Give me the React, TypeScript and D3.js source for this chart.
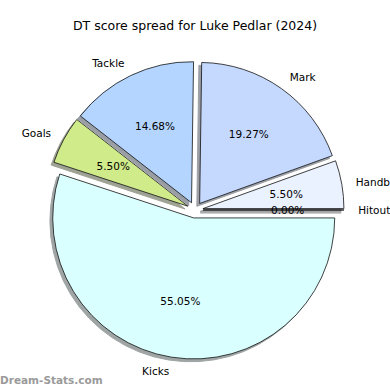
import * as d3 from "d3";
import { useEffect, useRef } from "react";

// DT score points per stat (order as matplotlib drew them, counter-clockwise)
const categories = ["Kicks", "Hitout", "Handball", "Mark", "Tackle", "Goals"];
const points = [60, 0, 6, 21, 16, 6];
const colors = ["#daffff", "#f2f7ff", "#eaf1ff", "#c5d9ff", "#b3d5ff", "#d0eb8a"];

const title = "DT score spread for Luke Pedlar (2024)";
const watermark = "Dream-Stats.com";

type Slice = { name: string; value: number; color: string };

const App = () => {
  const ref = useRef<SVGSVGElement>(null);
  const width = 390;
  const height = 390;

  useEffect(() => {
    if (!ref.current) return;
    const svg = d3.select(ref.current);
    svg.selectAll("*").remove();

    const data: Slice[] = categories.map((name, i) => ({
      name,
      value: points[i],
      color: colors[i],
    }));

    const cx = 195;
    const cy = 210;
    const r = 141;
    const explode = 0.057;
    const total = d3.sum(points);

    // first slice ends at 3 o'clock, slices run counter-clockwise
    const start = Math.PI / 2 + (points[0] / total) * 2 * Math.PI;
    const pie = d3
      .pie<Slice>()
      .sort(null)
      .value((d) => d.value)
      .startAngle(start)
      .endAngle(start - 2 * Math.PI);

    const arcs = pie(data);
    const arc = d3.arc<d3.PieArcDatum<Slice>>().innerRadius(0).outerRadius(r);

    const dir = (d: d3.PieArcDatum<Slice>) => {
      const a = (d.startAngle + d.endAngle) / 2;
      return [Math.sin(a), -Math.cos(a)];
    };

    const g = svg.append("g").attr("transform", `translate(${cx},${cy})`);

    // shadows
    g.selectAll(".shadow")
      .data(arcs)
      .enter()
      .append("path")
      .attr("class", "shadow")
      .attr("d", arc)
      .attr("transform", (d) => {
        const [ux, uy] = dir(d);
        return `translate(${ux * explode * r - 0.02 * r},${uy * explode * r + 0.02 * r})`;
      })
      .attr("fill", (d) => {
        const c = d3.rgb(d.data.color);
        return d3.rgb(c.r * 0.3, c.g * 0.3, c.b * 0.3).toString();
      })
      .attr("stroke", (d) => {
        const c = d3.rgb(d.data.color);
        return d3.rgb(c.r * 0.3, c.g * 0.3, c.b * 0.3).toString();
      })
      .attr("stroke-width", 1)
      .attr("opacity", 0.5);

    // wedges
    g.selectAll(".wedge")
      .data(arcs)
      .enter()
      .append("path")
      .attr("class", "wedge")
      .attr("d", arc)
      .attr("transform", (d) => {
        const [ux, uy] = dir(d);
        return `translate(${ux * explode * r},${uy * explode * r})`;
      })
      .attr("fill", (d) => d.data.color)
      .attr("stroke", "#111")
      .attr("stroke-width", 0.8)
      .attr("stroke-linejoin", "round");

    // category labels
    g.selectAll(".label")
      .data(arcs)
      .enter()
      .append("text")
      .attr("class", "label")
      .attr("x", (d) => dir(d)[0] * (1.1 + explode) * r)
      .attr("y", (d) => dir(d)[1] * (1.1 + explode) * r)
      .attr("dy", "0.35em")
      .attr("text-anchor", (d) => (dir(d)[0] > 1e-9 ? "start" : "end"))
      .attr("font-family", "DejaVu Sans")
      .attr("font-size", 10.5)
      .attr("fill", "#000")
      .text((d) => d.data.name);

    // percent labels
    g.selectAll(".pct")
      .data(arcs)
      .enter()
      .append("text")
      .attr("class", "pct")
      .attr("x", (d) => dir(d)[0] * (0.6 + explode) * r)
      .attr("y", (d) => dir(d)[1] * (0.6 + explode) * r)
      .attr("dy", "0.35em")
      .attr("text-anchor", "middle")
      .attr("font-family", "DejaVu Sans")
      .attr("font-size", 10.5)
      .attr("fill", "#000")
      .text((d) => `${((d.data.value / total) * 100).toFixed(2)}%`);

    svg
      .append("text")
      .attr("x", width / 2)
      .attr("y", 30)
      .attr("text-anchor", "middle")
      .attr("font-family", "DejaVu Sans")
      .attr("font-size", 12.5)
      .attr("fill", "#000")
      .text(title);

    svg
      .append("text")
      .attr("x", 0)
      .attr("y", 384)
      .attr("font-family", "DejaVu Sans")
      .attr("font-weight", "bold")
      .attr("font-size", 10.5)
      .attr("fill", "#9a9a9a")
      .text(watermark);
  }, []);

  return (
    <svg
      ref={ref}
      width={width}
      height={height}
      style={{ position: "absolute", left: 0, top: 0, background: "#fff" }}
    />
  );
};

export default App;
